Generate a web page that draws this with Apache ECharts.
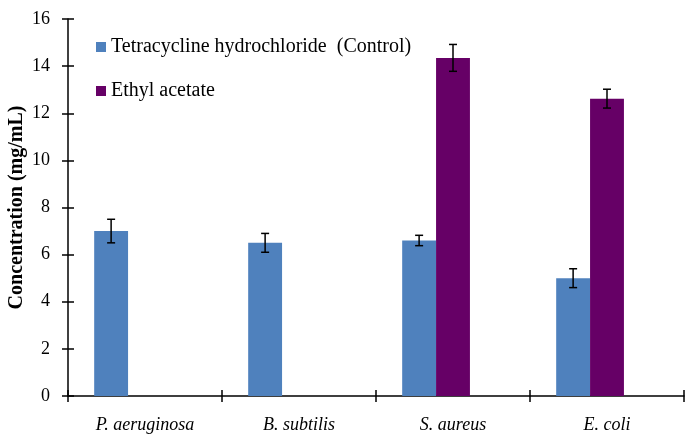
<!DOCTYPE html>
<html>
<head>
<meta charset="utf-8">
<script src="https://cdn.jsdelivr.net/npm/echarts@6/dist/echarts.min.js"></script>
<style>html,body{margin:0;padding:0;background:#fff}#c{width:695px;height:440px}</style>
</head>
<body>
<div id="c"></div>
<script>
const categories = ['P. aeruginosa', 'B. subtilis', 'S. aureus', 'E. coli'];
const controlValues = [7.0, 6.5, 6.6, 5.0];
const controlErrors = [0.5, 0.4, 0.22, 0.4];
const ethylValues = [null, null, 14.35, 12.62];
const ethylErrors = [null, null, 0.57, 0.4];
const emptyValues = [null, null, null, null];
const yTicks = [0, 2, 4, 6, 8, 10, 12, 14, 16];

const FONT = '"Liberation Serif", serif';
const BAR_FRAC = 0.22;

function errSeries(vals, errs, slot) {
  const data = vals.map((v, i) => v == null ? null : [i, v - errs[i], v + errs[i]]).filter(d => d);
  return {
    type: 'custom',
    z: 10,
    silent: true,
    renderItem: function (params, api) {
      const band = api.size([1, 0])[0];
      const off = slot * band * BAR_FRAC;
      const lo = api.coord([api.value(0), api.value(1)]);
      const hi = api.coord([api.value(0), api.value(2)]);
      const x = lo[0] + off;
      const cap = 4;
      const st = { stroke: '#000', lineWidth: 1.5 };
      return {
        type: 'group',
        children: [
          { type: 'line', shape: { x1: x, y1: lo[1], x2: x, y2: hi[1] }, style: st },
          { type: 'line', shape: { x1: x - cap, y1: lo[1], x2: x + cap, y2: lo[1] }, style: st },
          { type: 'line', shape: { x1: x - cap, y1: hi[1], x2: x + cap, y2: hi[1] }, style: st }
        ]
      };
    },
    encode: { x: 0, y: [1, 2] },
    data: data
  };
}

const toBar = arr => arr.map(v => v == null ? '-' : v);

const chart = echarts.init(document.getElementById('c'));
chart.setOption({
  animation: false,
  textStyle: { fontFamily: FONT },
  grid: { left: 68, right: 11, top: 19, bottom: 44, containLabel: false, outerBoundsMode: 'none' },
  legend: {
    orient: 'vertical',
    left: 91, top: 32,
    itemGap: 24,
    itemWidth: 10, itemHeight: 10,
    icon: 'rect',
    textStyle: { fontFamily: FONT, fontSize: 20, color: '#000' },
    data: ['Tetracycline hydrochloride  (Control)', 'Ethyl acetate']
  },
  xAxis: [{
    type: 'category',
    data: categories,
    axisLine: { lineStyle: { color: '#000', width: 1.5 } },
    axisTick: { show: true, length: 6, lineStyle: { color: '#000', width: 1.5 } },
    axisLabel: { fontFamily: FONT, fontSize: 18, fontStyle: 'italic', color: '#000', margin: 20 }
  }, {
    type: 'category',
    data: categories,
    position: 'bottom',
    axisLine: { show: false },
    axisTick: { show: true, inside: true, length: 6, lineStyle: { color: '#000', width: 1.5 } },
    axisLabel: { show: false }
  }],
  yAxis: [{
    type: 'value',
    min: 0, max: 16, interval: 2,
    name: 'Concentration (mg/mL)',
    nameLocation: 'middle',
    nameGap: 41,
    nameMoveOverlap: false,
    nameTextStyle: { fontFamily: FONT, fontSize: 20, fontWeight: 'bold', color: '#000' },
    axisLine: { show: true, lineStyle: { color: '#000', width: 1.5 } },
    axisTick: { show: true, length: 6, lineStyle: { color: '#000', width: 1.5 } },
    axisLabel: { fontFamily: FONT, fontSize: 18, color: '#000', margin: 18,
      formatter: v => yTicks.includes(v) ? String(v) : '' },
    splitLine: { show: false }
  }, {
    type: 'value',
    min: 0, max: 16, interval: 2,
    position: 'left',
    axisLine: { show: false },
    axisTick: { show: true, inside: true, length: 6, lineStyle: { color: '#000', width: 1.5 } },
    axisLabel: { show: false },
    splitLine: { show: false }
  }],
  series: [{
    name: 'Tetracycline hydrochloride  (Control)',
    type: 'bar',
    data: toBar(controlValues),
    barWidth: (BAR_FRAC * 100) + '%',
    barGap: '0%',
    itemStyle: { color: '#4F81BD' }
  }, {
    name: 'Ethyl acetate',
    type: 'bar',
    data: toBar(ethylValues),
    barWidth: (BAR_FRAC * 100) + '%',
    barGap: '0%',
    itemStyle: { color: '#660066' }
  }, {
    name: 'empty',
    type: 'bar',
    data: toBar(emptyValues),
    barWidth: (BAR_FRAC * 100) + '%',
    barGap: '0%',
    itemStyle: { color: 'rgba(0,0,0,0)' }
  },
  errSeries(controlValues, controlErrors, -1),
  errSeries(ethylValues, ethylErrors, 0)
  ]
});
</script>
</body>
</html>
